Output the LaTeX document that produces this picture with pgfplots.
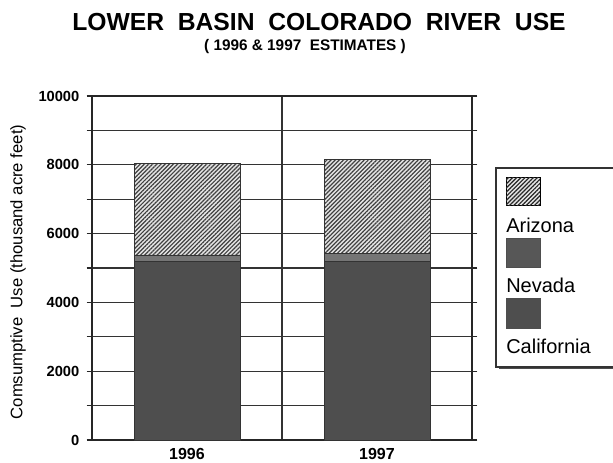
\documentclass[border=0pt]{standalone}
\usepackage{pgfplots}
\pgfplotsset{compat=1.18}
\usepackage{fontspec}
\setmainfont{Liberation Sans}
\usetikzlibrary{patterns.meta}
\definecolor{calgray}{HTML}{4E4E4E}
\definecolor{nevgray}{HTML}{757575}
\definecolor{gridc}{HTML}{333333}
\begin{document}
\begin{tikzpicture}[x=1pt,y=1pt]
\useasboundingbox (0,0) rectangle (459.75,346.5);
% grid (drawn behind the axis)
\foreach \k in {1,...,9} {
  \draw[gridc, line width=0.8pt] (69,16.5+25.8*\k) -- (354,16.5+25.8*\k);
}
\draw[gridc, line width=0.8pt] (211.5,16.5) -- (211.5,274.5);
\begin{axis}[
  at={(69pt,16.5pt)}, anchor=south west,
  scale only axis, width=285pt, height=258pt,
  xmin=-0.5, xmax=1.5, ymin=0, ymax=10000,
  ybar stacked, bar width=79.5pt,
  xtick={0,1}, xticklabels={1996,1997},
  extra x ticks={0.5}, extra x tick labels={},
  extra x tick style={major tick length=4pt, tick style={draw=black!85, line width=0.8pt}},
  ytick={0,1000,...,10000},
  yticklabels={0,,2000,,4000,,6000,,8000,,10000},
  scaled y ticks=false,
  axis line style={black!85, line width=1pt},
  tick align=outside,
  major tick length=4pt,
  every tick/.style={black!85, line width=0.8pt},
  xtick style={draw=none},
  yticklabel style={font=\bfseries\fontsize{11}{12}\selectfont, xshift=-2pt},
  xticklabel style={font=\bfseries\fontsize{12}{13}\selectfont, yshift=1pt},
]
\addplot[draw=black!80, line width=0.5pt, fill=calgray]
  coordinates {(0,5180) (1,5180)};
\addplot[draw=black!80, line width=0.5pt, fill=nevgray]
  coordinates {(0,200) (1,250)};
\addplot[draw=black!80, line width=0.5pt, fill=white!80!gray,
  postaction={pattern={Lines[angle=45, distance=2.2pt, line width=0.9pt]}, pattern color=black!75}]
  coordinates {(0,2660) (1,2730)};
\end{axis}
% y label
\node[rotate=90, font=\fontsize{12.5}{13}\selectfont, anchor=center] at (13.5,142.5) {Comsumptive\ \ Use (thousand acre feet)};
% title
\node[font=\bfseries\fontsize{18.5}{20}\selectfont, anchor=center] at (239.25,330.2) {LOWER\ \ BASIN\ \ COLORADO\ \ RIVER\ \ USE};
\node[font=\bfseries\fontsize{11.5}{13}\selectfont, anchor=center] at (228.75,311.5) {( 1996 \& 1997\ \ ESTIMATES )};
% legend
\fill[black!70] (374,69.5) rectangle (475,218.5);
\draw[black!80, line width=1pt, fill=white] (372,71.25) rectangle (475,220.5);
\draw[black, line width=0.6pt, fill=white!80!gray,
  postaction={pattern={Lines[angle=45, distance=2.2pt, line width=0.9pt]}, pattern color=black!85}]
  (379.5,192.75) rectangle (405,213.75);
\node[anchor=base west, inner sep=0pt, font=\fontsize{15}{16}\selectfont] at (379.5,172.5) {Arizona};
\draw[calgray, line width=0.6pt, fill=calgray!95!white] (379.5,146.25) rectangle (405,168);
\node[anchor=base west, inner sep=0pt, font=\fontsize{15}{16}\selectfont] at (379.5,127.5) {Nevada};
\draw[calgray, line width=0.6pt, fill=calgray] (379.5,100.5) rectangle (405,123);
\node[anchor=base west, inner sep=0pt, font=\fontsize{15}{16}\selectfont] at (379.5,81.75) {California};
\end{tikzpicture}
\end{document}
